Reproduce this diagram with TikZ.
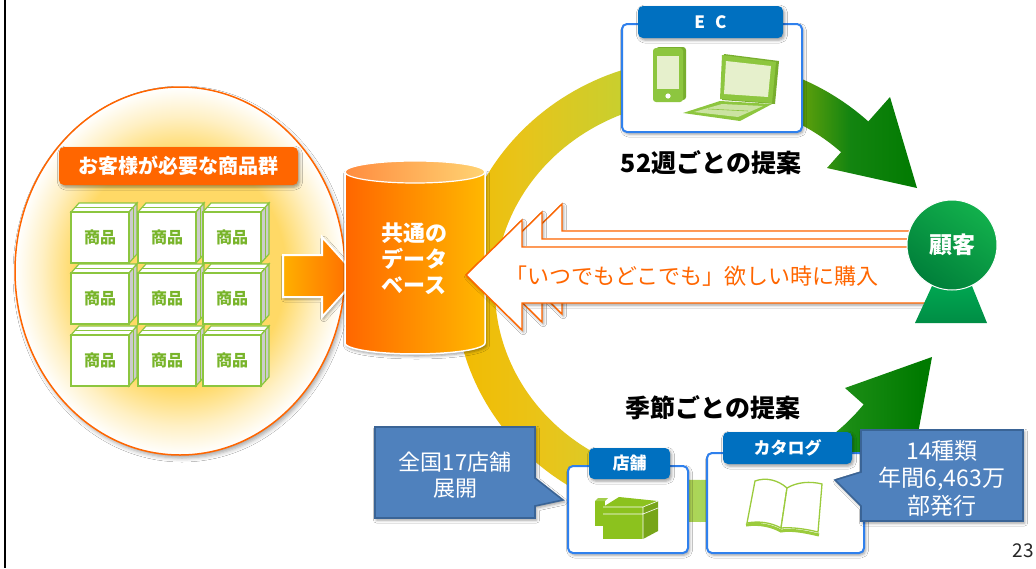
\documentclass[tikz,border=0pt]{standalone}
\usepackage{fontspec}
\setmainfont{Noto Sans CJK JP}
\usetikzlibrary{shadows.blur}

\definecolor{orgA}{HTML}{FF6600}
\definecolor{orgY}{HTML}{FFB000}
\definecolor{glowc}{HTML}{FFD966}
\definecolor{glowl}{HTML}{FFF0C4}
\definecolor{r1}{HTML}{F2BA00}
\definecolor{r2}{HTML}{E8C41A}
\definecolor{r3}{HTML}{C9CF2E}
\definecolor{r4}{HTML}{5A9E0C}
\definecolor{r5}{HTML}{138410}
\definecolor{r6}{HTML}{007A00}
\definecolor{b2}{HTML}{EAC418}
\definecolor{b3}{HTML}{D6CC2E}
\definecolor{b4}{HTML}{A9D65A}
\definecolor{b5}{HTML}{6FBA3A}
\definecolor{b6}{HTML}{1A8C14}
\definecolor{tabblue}{HTML}{0070C0}
\definecolor{lineblue}{HTML}{2F80ED}
\definecolor{callfill}{HTML}{4F81BD}
\definecolor{callline}{HTML}{3A6496}
\definecolor{prodgreen}{HTML}{8CC63F}
\definecolor{prodtext}{HTML}{78B42A}
\definecolor{icongreen}{HTML}{8DC63F}
\definecolor{icondark}{HTML}{78AE2E}
\definecolor{iconpale}{HTML}{E6F0CC}
\definecolor{storeg}{HTML}{8CC21E}
\definecolor{bookg}{HTML}{9BCB3C}
\definecolor{custA}{HTML}{12B04C}
\definecolor{custB}{HTML}{007F3A}
\definecolor{custT}{HTML}{00A651}

\pgfdeclarehorizontalshading{topring}{100bp}{color(0bp)=(r1); color(25bp)=(r1); color(32bp)=(r2); color(42bp)=(r3); color(60.5bp)=(r4); color(65bp)=(r5); color(72bp)=(r6); color(100bp)=(r6)}
\pgfdeclarehorizontalshading{botring}{100bp}{color(0bp)=(r1); color(25bp)=(r1); color(34bp)=(b2); color(42bp)=(b3); color(50bp)=(b4); color(57bp)=(b5); color(65bp)=(b6); color(72bp)=(r6); color(100bp)=(r6)}
\pgfdeclareradialshading{glow}{\pgfpoint{0bp}{0bp}}{color(0bp)=(glowc); color(16bp)=(glowc); color(21bp)=(glowl); color(25bp)=(white); color(50bp)=(white)}

\newcommand\setfs[2]{\fontsize{#1}{#2}\selectfont}

\tikzset{
  shd/.style={blur shadow={shadow xshift=1.5pt, shadow yshift=-2pt, shadow blur radius=3pt, shadow opacity=40}},
  appbox/.style={draw=lineblue, line width=2pt, fill=white, rounded corners=5pt, shd, inner sep=0pt},
  tabbox/.style={fill=tabblue, rounded corners=5pt, text=white, font=\bfseries\setfs{17}{17}, inner sep=0pt, shd},
  prodbox/.style={draw=prodgreen, line width=1.6pt, fill=white, minimum width=58pt, minimum height=51pt, inner sep=0pt, text=prodtext, font=\bfseries\setfs{16}{16}},
  callout/.style={fill=callfill, draw=callline, line width=1.6pt, shd},
  whitearrow/.style={fill=white, draw=orgA, line width=1.4pt, shd},
  proposal/.style={font=\bfseries\setfs{25}{25}, text=black, inner sep=0pt},
}

\begin{document}
\begin{tikzpicture}[x=1pt, y=-1pt]
\useasboundingbox (0,0) rectangle (1036,568);
\fill[white] (0,0) rectangle (1036,568);

% page edge
\draw[line width=2.5pt] (5,0) -- (5,568);

% product group ellipse
\path[fill=white, blur shadow={shadow xshift=2pt, shadow yshift=-3pt, shadow blur radius=4pt, shadow opacity=35}] (180,271) ellipse [x radius=165, y radius=184];
\shade[shading=glow] (180,271) ellipse [x radius=165, y radius=184];
\draw[orgA, line width=1.5pt] (180,271) ellipse [x radius=165, y radius=184];

\node[fill=orgA, rounded corners=5pt, minimum width=239pt, minimum height=38pt, inner sep=0pt, shd, text=white, font=\bfseries\setfs{20}{20}] (grp) at (178.5,166) {お客様が必要な商品群};

% stacked product boxes
\foreach \x in {71,138,203} {
  \foreach \y in {212,273,335} {
    \filldraw[fill=white, draw=prodgreen, line width=1.2pt] (\x,\y) -- ++(8,-9) -- ++(58,0) -- ++(-8,9) -- cycle;
    \draw[prodgreen, line width=0.8pt] ({\x+4},{\y-4.5}) -- ++(58,0);
    \filldraw[fill=gray!40, draw=prodgreen, line width=1.2pt] ({\x+58},\y) -- ++(8,-9) -- ++(0,51) -- ++(-8,9) -- cycle;
    \draw[prodgreen, line width=0.8pt] ({\x+62},{\y-4.5}) -- ++(0,51);
    \node[prodbox] (p-\x-\y) at ({\x+29},{\y+25.5}) {商品};
  }
}

% arrow into the database
\shadedraw[left color=orgY, middle color=orgA, right color=orgA, draw=white, line width=2pt, shd]
  (283,255) -- (322,255) -- (322,237) -- (358,277) -- (322,317) -- (322,297) -- (283,297) -- cycle;

% upper proposal cycle (yellow to green)
\begin{scope}
  \clip plot[domain=178:316, samples=80] ({700+245*cos(\x)},{290+232*sin(\x)})
     -- plot[domain=316:178, samples=80] ({700+205*cos(\x)},{290+190*sin(\x)}) -- cycle;
  \shade[shading=topring] (450,0) rectangle (950,568);
\end{scope}
\begin{scope}
  \clip (890,97) -- (917,188) -- (827,168) -- cycle;
  \shade[shading=topring] (450,0) rectangle (950,568);
\end{scope}

% lower proposal cycle
\begin{scope}
  \clip plot[domain=182:35, samples=100] ({700+245*cos(\x)},{290+232*sin(\x)})
     -- plot[domain=35:182, samples=100] ({700+205*cos(\x)},{290+190*sin(\x)}) -- cycle;
  \shade[shading=botring] (450,0) rectangle (950,568);
\end{scope}
\begin{scope}
  \clip (845,388) -- (932,357) -- (915,450) -- cycle;
  \shade[shading=botring] (450,0) rectangle (950,568);
\end{scope}

% database cylinder
\path[fill=orgA, shd] (345,172) -- (345,343) -- plot[domain=180:0, samples=40] ({415+70*cos(\x)},{343+11*sin(\x)}) -- (485,172) -- cycle;
\shade[left color=orgA, middle color=orgA!80!orgY, right color=orgY!90!yellow] (345,172) -- (345,343) -- plot[domain=180:0, samples=40] ({415+70*cos(\x)},{343+11*sin(\x)}) -- (485,172) -- cycle;
\draw[white, line width=1.5pt] (345,172) -- (345,343) -- plot[domain=180:0, samples=40] ({415+70*cos(\x)},{343+11*sin(\x)}) -- (485,172);
\shadedraw[left color=orgA!75!white, right color=orgY!55!white, draw=white, line width=1.2pt] (415,172) ellipse [x radius=70, y radius=11];
\node[anchor=west, align=left, text=white, font=\bfseries\setfs{22}{26}, inner sep=0pt] (db) at (381,259) {共通の\\データ\\ベース};

% purchase arrow, layered
\path[whitearrow] (506,259) -- (562,204) -- (562,231) -- (955,231) -- (955,287) -- (562,287) -- (562,314) -- cycle;
\path[whitearrow] (486,267) -- (542,212) -- (542,239) -- (955,239) -- (955,295) -- (542,295) -- (542,322) -- cycle;
\path[whitearrow] (466,275) -- (522,220) -- (522,247) -- (955,247) -- (955,303) -- (522,303) -- (522,330) -- cycle;
\node[text=orgA, font=\setfs{22}{22}, inner sep=0pt] (buy) at (692,276) {「いつでもどこでも」欲しい時に購入};

% customer
\shade[top color=custT, bottom color=custT!85!black] (932,286) -- (972,286) -- (987,323) -- (915,323) -- cycle;
\node[circle, minimum size=90pt, inner sep=0pt, top color=custA, bottom color=custB, shading angle=-35, draw=white, line width=1pt, text=white, font=\bfseries\setfs{23}{23}] (cust) at (952,245) {顧客};

% EC channel
\node[appbox, minimum width=180pt, minimum height=108pt] (ecbox) at (712,78) {};
\node[tabbox, minimum width=145pt, minimum height=32pt] (ectab) at (710.5,22) {E\hspace{10pt}C};
% phone
\fill[icondark, rounded corners=3pt] (656,47) rectangle (686,100);
\fill[icongreen, rounded corners=3pt] (653,48) rectangle (683,102);
\fill[iconpale] (657,56) rectangle (679,89);
\fill[white] (668,96) circle (2.6);
% laptop
\fill[icondark] (724,54) -- (779,61) -- (775,104) -- (722,100) -- cycle;
\fill[icongreen] (722,55) -- (776,62) -- (772,103) -- (720,99) -- cycle;
\fill[iconpale] (726,61) -- (771,66) -- (768,97) -- (724,94) -- cycle;
\fill[icongreen] (720,101) -- (772,104) -- (740,121) -- (683,113) -- cycle;
\fill[iconpale!70!icongreen] (722,104) -- (763,106) -- (738,117) -- (694,112) -- cycle;
\draw[icongreen, line width=0.6pt] (708,109) -- (748,111);

\node[proposal] (wk) at (711,163) {52週ごとの提案};
\node[proposal] (ss) at (713,408) {季節ごとの提案};

% store channel
\node[appbox, minimum width=120pt, minimum height=87pt] (stbox) at (628,509.5) {};
\node[tabbox, minimum width=81pt, minimum height=31pt] (sttab) at (629.5,463.5) {店舗};
\fill[storeg] (595,501) rectangle (605,526);
\fill[storeg!80!white] (595,501) -- (598,498) -- (608,498) -- (605,501) -- cycle;
\fill[storeg] (603,507) rectangle (643,539);
\fill[storeg] (603,507) -- (619,497) -- (658,501) -- (643,507) -- cycle;
\fill[storeg!85!black] (643,507) -- (658,501) -- (658,531) -- (643,539) -- cycle;
\draw[white, line width=0.6pt] (603,507) -- (643,507) -- (658,501) (643,507) -- (643,539) (603,514) -- (643,514) -- (658,508);

% catalog channel
\node[appbox, minimum width=157pt, minimum height=100pt] (ctbox) at (785.5,503) {};
\node[tabbox, minimum width=129pt, minimum height=32pt] (cttab) at (787.5,448) {カタログ};
\filldraw[fill=white, draw=bookg, line width=1.3pt] (755,481) .. controls (766,477) and (778,480) .. (787,488) -- (781,528) .. controls (770,522) and (758,521) .. (747,523) -- cycle;
\filldraw[fill=white, draw=bookg, line width=1.3pt] (787,488) .. controls (797,482) and (810,481) .. (822,484) -- (818,532) .. controls (806,529) and (792,527) .. (781,528) -- cycle;
\draw[bookg, line width=3pt] (746,525) .. controls (760,523) and (772,526) .. (781,531) .. controls (792,529) and (806,532) .. (819,535);

% callouts
\path[callout] (375,427) -- (535,427) -- (535,478) -- (563,500) -- (535,506) -- (535,518) -- (375,518) -- cycle;
\node[align=center, text=white, font=\setfs{22}{26}, inner sep=0pt] (stnote) at (455,475) {全国17店舗\\展開};
\path[callout] (861,430) -- (1023,430) -- (1023,521) -- (861,521) -- (861,506) -- (835,480) -- (861,472) -- cycle;
\node[align=center, text=white, font=\setfs{23}{27.5}, inner sep=0pt] (ctnote) at (942,478) {14種類\\年間6,463万\\部発行};

% page number
\node[anchor=east, inner sep=0pt, text=black!85, font=\setfs{19}{19}] (pg) at (1034,551) {23};
\end{tikzpicture}
\end{document}
